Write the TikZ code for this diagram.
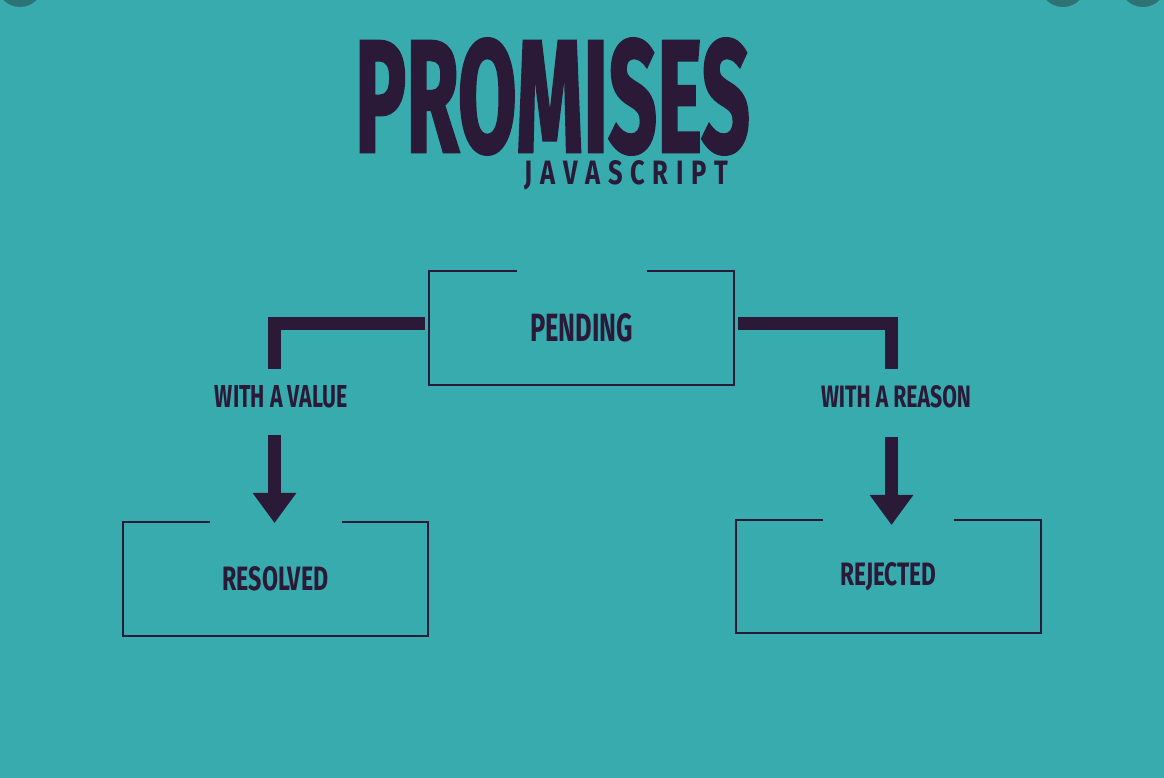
\documentclass[tikz,border=0pt]{standalone}
\usepackage{fontspec}
\usepackage{graphicx}
\setmainfont{Fira Sans}
\newfontfamily\titlefont{Fira Sans}[FakeBold=2]
\usetikzlibrary{arrows.meta,calc}
\definecolor{bg}{HTML}{38ABAE}
\definecolor{ink}{HTML}{2A1A38}
\definecolor{dot}{HTML}{2D7375}
\begin{document}
\begin{tikzpicture}[x=1pt,y=-1pt,
  statebox/.style={inner sep=0pt, minimum width=305pt, minimum height=114pt, text=ink},
  lbl/.style={inner sep=0pt, text=ink},
  frame/.style={draw=ink, line width=2pt},
  bar/.style={draw=ink, line width=13pt, line join=miter},
  tip/.style={-{Triangle[width=44pt,length=30pt,line width=0pt]}}]
\useasboundingbox (0,0) rectangle (1164,778);
\clip (0,0) rectangle (1164,778);
\fill[bg] (0,0) rectangle (1164,778);
\fill[dot] (20,-16) circle[radius=23pt];
\fill[dot] (1063,-16) circle[radius=23pt];
\fill[dot] (1143,-16) circle[radius=23pt];

\node[lbl] (title) at (552.5,96.5) {\resizebox{395pt}{113pt}{\titlefont\bfseries PROMISES}};
\node[lbl] (sub) at (626.5,175) {\resizebox{203pt}{24pt}{\bfseries J\hspace{0.3em}A\hspace{0.3em}V\hspace{0.3em}A\hspace{0.3em}S\hspace{0.3em}C\hspace{0.3em}R\hspace{0.3em}I\hspace{0.3em}P\hspace{0.3em}T}};

\node[statebox] (pending) at (581.5,328) {\resizebox{103pt}{28pt}{\bfseries PENDING}};
\node[statebox] (resolved) at (275.5,579) {\resizebox{106pt}{24pt}{\bfseries RESOLVED}};
\node[statebox, minimum height=113pt] (rejected) at (888.5,576.5) {\resizebox{96pt}{23pt}{\bfseries REJECTED}};
\node[lbl] (value) at (281.5,397) {\resizebox{133pt}{22pt}{\bfseries WITH A VALUE}};
\node[lbl] (reason) at (896,397) {\resizebox{150pt}{22pt}{\bfseries WITH A REASON}};

\draw[frame] ([xshift=-64.5pt]pending.north) -- (pending.north west) -- (pending.south west) -- (pending.south east) -- (pending.north east) -- ([xshift=65.5pt]pending.north);
\draw[frame] ([xshift=-66pt]resolved.north) -- (resolved.north west) -- (resolved.south west) -- (resolved.south east) -- (resolved.north east) -- ([xshift=66pt]resolved.north);
\draw[frame] ([xshift=-65.5pt]rejected.north) -- (rejected.north west) -- (rejected.south west) -- (rejected.south east) -- (rejected.north east) -- ([xshift=65.5pt]rejected.north);

\draw[bar] ([shift={(-4,-4.5)}]pending.west) -| ($(value.north -| resolved.north)+(-1,-17)$);
\draw[bar] ([shift={(4,-4.5)}]pending.east) -| ($(reason.north -| rejected.north)+(3,-17)$);

\draw[bar, tip] ($(value.south -| resolved.north)+(-1,27)$) -- ([shift={(-1,1)}]resolved.north);
\draw[bar, tip] ($(reason.south -| rejected.north)+(3,29)$) -- ([shift={(3,5)}]rejected.north);
\end{tikzpicture}
\end{document}
